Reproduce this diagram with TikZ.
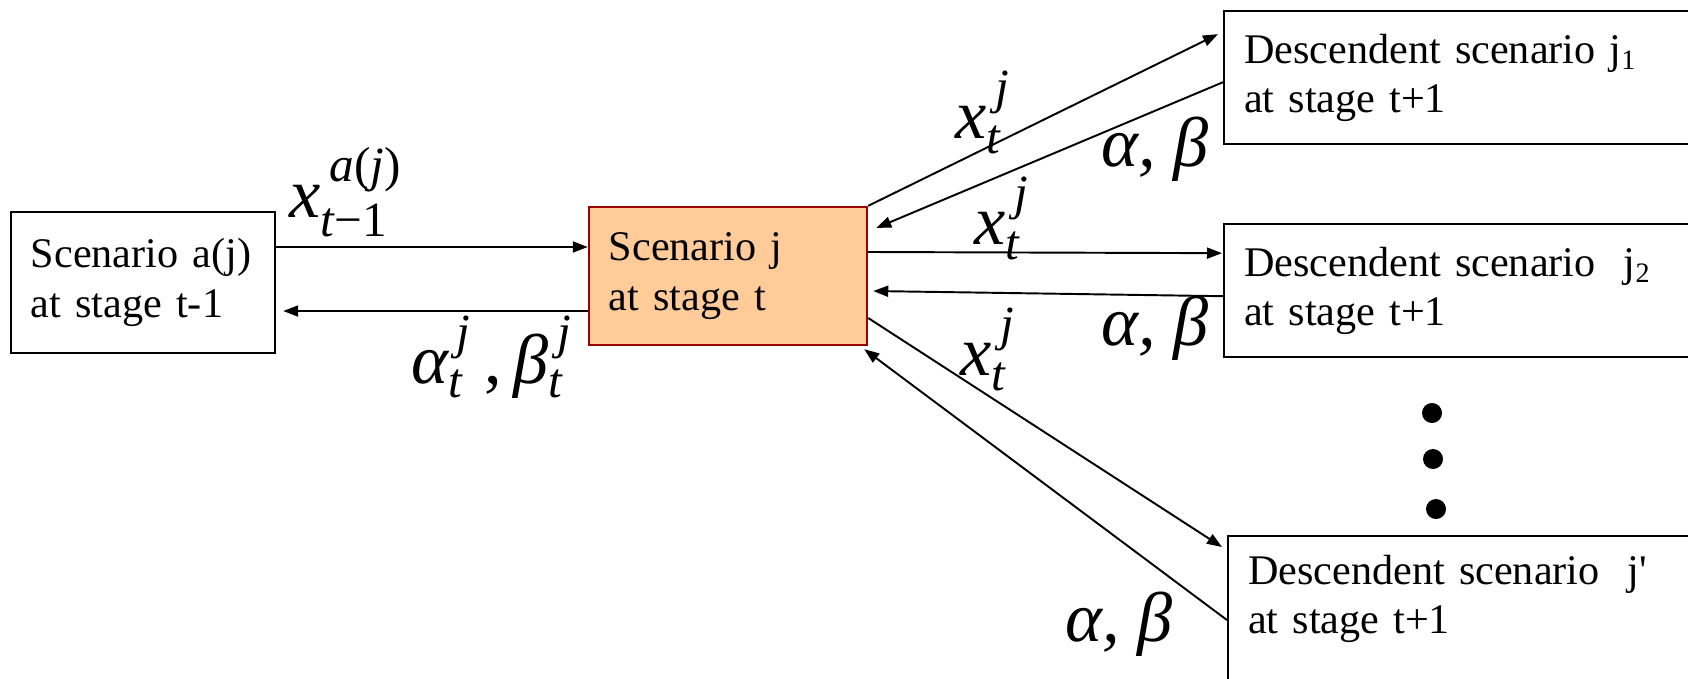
\documentclass[tikz,border=0pt]{standalone}
\usepackage{amsmath}
\usepackage{fontspec}
\setmainfont{Liberation Serif}
\usetikzlibrary{arrows.meta}
\definecolor{ScenFill}{HTML}{FFCC99}
\definecolor{ScenLine}{HTML}{990000}
\newcommand{\itm}[1]{\text{\itshape #1}}

\begin{document}
\begin{tikzpicture}[x=0.01cm, y=-0.01cm,
  box/.style={draw, line width=0.65pt, align=left, inner xsep=2mm, font=\fontsize{12}{14}\selectfont},
  descbox/.style={box, anchor=north west, text width=4.37cm, minimum height=1.33cm},
  arrow/.style={-{Triangle[length=1.5mm, width=1.1mm]}, line width=0.55pt},
  lbl/.style={inner sep=0pt, font=\fontsize{20}{24}\selectfont}
]
  \useasboundingbox (0,0) rectangle (1688,678);

  \node[box, text width=2.24cm, minimum height=1.41cm] (prev) at (143,282.5) {Scenario a(j)\\at stage t-1};
  \node[box, fill=ScenFill, draw=ScenLine, text width=2.38cm, minimum height=1.38cm] (cur) at (728,276) {Scenario j\\at stage t};
  \node[descbox] (d1) at (1223,10) {Descendent scenario j\textsubscript{1}\\at stage t+1};
  \node[descbox] (d2) at (1223,223) {Descendent scenario\ \ j\textsubscript{2}\\at stage t+1};
  \node[box, anchor=north west, text width=4.37cm, inner ysep=1.9mm, text depth=1.2cm] (d3) at (1227,535) {Descendent scenario\ \ j\textquotesingle\\at stage t+1};

  \draw[arrow] ([yshift=3.55mm]prev.east) -- ([yshift=2.9mm]cur.west);
  \draw[arrow] ([yshift=-3.5mm]cur.west) -- ([xshift=0.7mm,yshift=-2.85mm]prev.east);
  \draw[arrow] (cur.north east) -- ([xshift=-0.5mm,yshift=4.35mm]d1.west);
  \draw[arrow] ([yshift=-0.45mm]d1.west) -- ([xshift=0.8mm,yshift=4.8mm]cur.east);
  \draw[arrow] ([yshift=2.4mm]cur.east) -- ([xshift=-0.1mm,yshift=3.75mm]d2.west);
  \draw[arrow] ([yshift=-0.55mm]d2.west) -- ([xshift=0.5mm,yshift=-1.5mm]cur.east);
  \draw[arrow] ([yshift=-4.2mm]cur.east) -- ([xshift=-0.5mm,yshift=-1.2mm]d3.north west);
  \draw[arrow] ([yshift=-8.5mm]d3.north west) -- ([xshift=-0.4mm,yshift=-0.3mm]cur.south east);

  \node[lbl] (lxa) at (346,192) {$\itm{x}^{\,\itm{a}\text{(}\itm{j}\text{)}}_{\itm{t}\text{−1}}$};
  \node[lbl] (lab0) at (492,357) {$\itm{α}^{\,\itm{j}}_{\itm{t}}\,\text{,}\,\itm{β}^{\,\itm{j}}_{\itm{t}}$};
  \node[lbl] (lx1) at (983,112) {$\itm{x}^{\,\itm{j}}_{\itm{t}}$};
  \node[lbl] (lab1) at (1155,149) {\itshape α, β};
  \node[lbl] (lx2) at (1002,218) {$\itm{x}^{\,\itm{j}}_{\itm{t}}$};
  \node[lbl] (lab2) at (1155,328) {\itshape α, β};
  \node[lbl] (lx3) at (988,349) {$\itm{x}^{\,\itm{j}}_{\itm{t}}$};
  \node[lbl] (lab3) at (1119,624) {\itshape α, β};

  % dots for the further descendents
  \foreach \dx/\dy in {1432/413, 1433/459, 1436/509}
    \fill (\dx,\dy) circle (1mm);
\end{tikzpicture}
\end{document}
